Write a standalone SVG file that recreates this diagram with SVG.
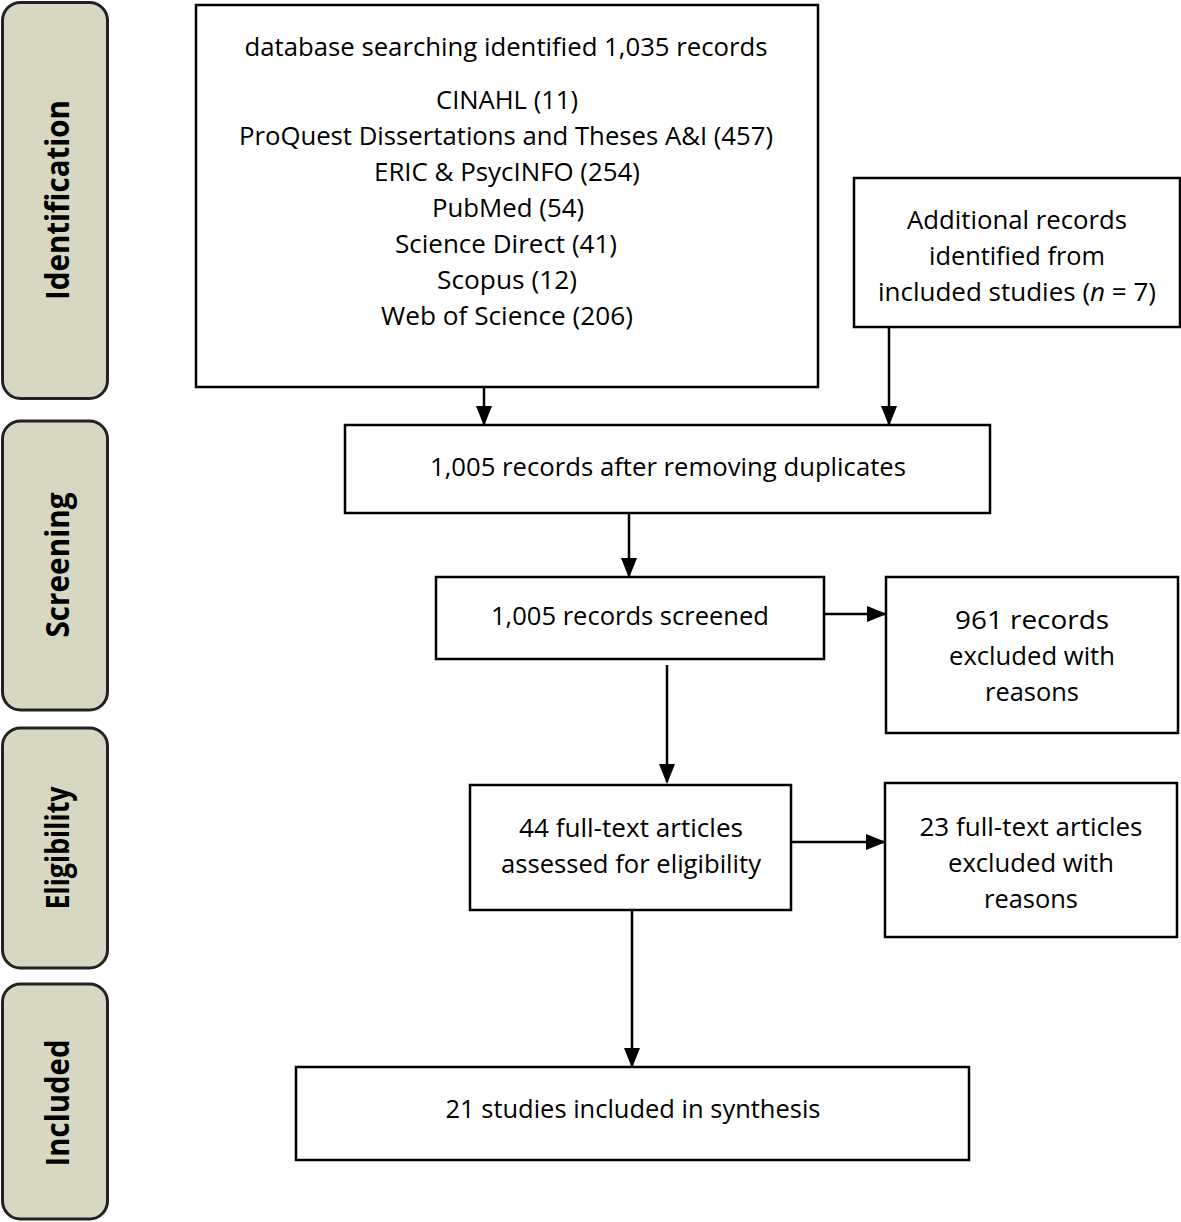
<svg xmlns="http://www.w3.org/2000/svg" width="1181" height="1222" viewBox="0 0 1181 1222">
<defs>
<style>
.phase{fill:#d8d8c2;stroke:#222;stroke-width:3}
.box{fill:#fff;stroke:#000;stroke-width:2.5}
.t{font-family:"Open Sans","Noto Sans",sans-serif;font-size:26px;fill:#000;text-anchor:middle}
.pt{font-family:"Open Sans","Liberation Sans",sans-serif;font-weight:bold;font-size:32px;fill:#000;text-anchor:middle}
.c{stroke:#000;stroke-width:2.5;fill:none;marker-end:url(#ah)}
</style>
<marker id="ah" markerWidth="20" markerHeight="18" refX="18" refY="8" orient="auto" markerUnits="userSpaceOnUse" viewBox="0 0 20 16">
<path d="M0,0 L20,8 L0,16 Z" fill="#000"/>
</marker>
</defs>
<rect width="1181" height="1222" fill="#fff"/>
<g id="phase-identification"><rect class="phase" x="2.5" y="2.5" width="105" height="396" rx="18"/><text class="pt" transform="translate(69,200) rotate(-90)" textLength="200" lengthAdjust="spacingAndGlyphs">Identification</text></g>
<g id="phase-screening"><rect class="phase" x="2.5" y="421" width="105" height="289" rx="18"/><text class="pt" transform="translate(69,565) rotate(-90)" textLength="145" lengthAdjust="spacingAndGlyphs">Screening</text></g>
<g id="phase-eligibility"><rect class="phase" x="2.5" y="728" width="105" height="240" rx="18"/><text class="pt" transform="translate(69,848) rotate(-90)" textLength="123" lengthAdjust="spacingAndGlyphs">Eligibility</text></g>
<g id="phase-included"><rect class="phase" x="2.5" y="984" width="105" height="235" rx="18"/><text class="pt" transform="translate(69,1103) rotate(-90)" textLength="127" lengthAdjust="spacingAndGlyphs">Included</text></g>

<g id="node-database">
<rect class="box" x="196" y="5" width="622" height="382"/>
<text class="t" x="506" y="56" textLength="523" lengthAdjust="spacingAndGlyphs">database searching identified 1,035 records</text>
<text class="t" x="507" y="109" textLength="142" lengthAdjust="spacingAndGlyphs">CINAHL (11)</text>
<text class="t" x="506" y="145" textLength="534" lengthAdjust="spacingAndGlyphs">ProQuest Dissertations and Theses A&amp;I (457)</text>
<text class="t" x="507" y="181" textLength="266" lengthAdjust="spacingAndGlyphs">ERIC &amp; PsycINFO (254)</text>
<text class="t" x="508" y="217" textLength="152" lengthAdjust="spacingAndGlyphs">PubMed (54)</text>
<text class="t" x="506" y="253" textLength="222" lengthAdjust="spacingAndGlyphs">Science Direct (41)</text>
<text class="t" x="507" y="289" textLength="140" lengthAdjust="spacingAndGlyphs">Scopus (12)</text>
<text class="t" x="507" y="325" textLength="252" lengthAdjust="spacingAndGlyphs">Web of Science (206)</text>
</g>
<g id="node-additional">
<rect class="box" x="854" y="178" width="326" height="149"/>
<text class="t" x="1017" y="229" textLength="220" lengthAdjust="spacingAndGlyphs">Additional records</text>
<text class="t" x="1017" y="265" textLength="176" lengthAdjust="spacingAndGlyphs">identified from</text>
<text class="t" x="1017" y="301" textLength="278" lengthAdjust="spacingAndGlyphs">included studies (<tspan font-style="italic">n</tspan> = 7)</text>
</g>
<g id="node-duplicates">
<rect class="box" x="345" y="425" width="645" height="88"/>
<text class="t" x="668" y="476" textLength="476" lengthAdjust="spacingAndGlyphs">1,005 records after removing duplicates</text>
</g>
<g id="node-screened">
<rect class="box" x="436" y="577" width="388" height="82"/>
<text class="t" x="630" y="625" textLength="278" lengthAdjust="spacingAndGlyphs">1,005 records screened</text>
</g>
<g id="node-excluded1">
<rect class="box" x="886" y="577" width="292" height="156"/>
<text class="t" x="1032" y="629" textLength="154" lengthAdjust="spacingAndGlyphs">961 records</text>
<text class="t" x="1032" y="665" textLength="166" lengthAdjust="spacingAndGlyphs">excluded with</text>
<text class="t" x="1032" y="701" textLength="94" lengthAdjust="spacingAndGlyphs">reasons</text>
</g>
<g id="node-fulltext">
<rect class="box" x="470" y="785" width="321" height="125"/>
<text class="t" x="631" y="837" textLength="224" lengthAdjust="spacingAndGlyphs">44 full-text articles</text>
<text class="t" x="631" y="873" textLength="260" lengthAdjust="spacingAndGlyphs">assessed for eligibility</text>
</g>
<g id="node-excluded2">
<rect class="box" x="885" y="783" width="292" height="154"/>
<text class="t" x="1031" y="836" textLength="223" lengthAdjust="spacingAndGlyphs">23 full-text articles</text>
<text class="t" x="1031" y="872" textLength="166" lengthAdjust="spacingAndGlyphs">excluded with</text>
<text class="t" x="1031" y="908" textLength="94" lengthAdjust="spacingAndGlyphs">reasons</text>
</g>
<g id="node-included">
<rect class="box" x="296" y="1067" width="673" height="93"/>
<text class="t" x="633" y="1118" textLength="375" lengthAdjust="spacingAndGlyphs">21 studies included in synthesis</text>
</g>

<g id="connectors">
<line class="c" x1="484" y1="387" x2="484" y2="424"/>
<line class="c" x1="889" y1="327" x2="889" y2="424"/>
<line class="c" x1="629" y1="513" x2="629" y2="576"/>
<line class="c" x1="824" y1="614" x2="885" y2="614"/>
<line class="c" x1="667" y1="665" x2="667" y2="782"/>
<line class="c" x1="791" y1="842" x2="884" y2="842"/>
<line class="c" x1="632" y1="910" x2="632" y2="1066"/>
</g>
</svg>
